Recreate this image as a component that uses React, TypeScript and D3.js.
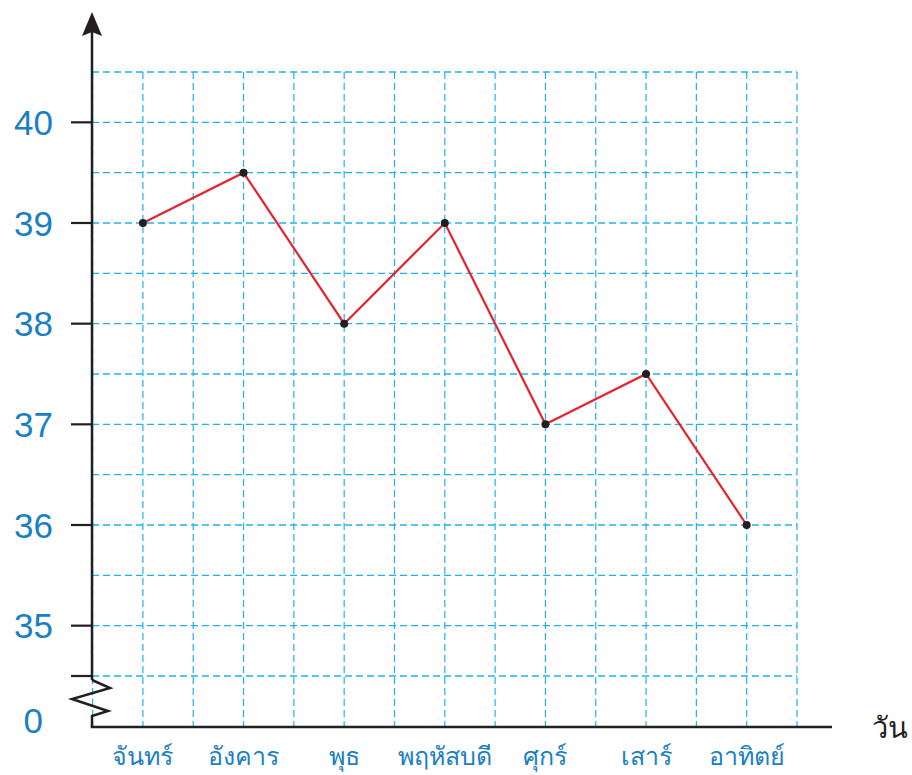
import React from "react";
import * as d3 from "d3";

const days = ["จันทร์", "อังคาร", "พุธ", "พฤหัสบดี", "ศุกร์", "เสาร์", "อาทิตย์"];
const temps = [39, 39.5, 38, 39, 37, 37.5, 36];
const yTickValues = [35, 36, 37, 38, 39, 40];
const xAxisTitle = "วัน";
const zeroLabel = "0";

const W = 912;
const H = 775;
const axisX = 92;
const axisY = 727;
const gridRight = 797;

const x = d3.scaleLinear().domain([-0.5, 6.5]).range([axisX + 0.6, gridRight]);
const y = d3.scaleLinear().domain([34.5, 40.5]).range([676, 72]);

const gridBlue = "#1fb2ea";
const labelBlue = "#1a80c4";
const axisColor = "#231f20";

export default function App() {
  const hVals = d3.range(34.5, 40.51, 0.5);
  const vVals = d3.range(-0.5, 6.51, 0.5);
  const line = d3
    .line<number>()
    .x((_, i) => x(i))
    .y((d) => y(d));

  const zig = [
    [axisX, y(34.5) + 4],
    [axisX + 18, 688],
    [axisX - 20, 699],
    [axisX + 16, 711],
    [axisX, 716],
    [axisX, axisY],
  ];

  return (
    <svg width={W} height={H} style={{ position: "absolute", left: 0, top: 0 }}>
      <rect width={W} height={H} fill="#fff" />
      {/* horizontal grid */}
      {hVals.map((v) => (
        <line
          key={"h" + v}
          x1={axisX}
          x2={gridRight}
          y1={y(v)}
          y2={y(v)}
          stroke={gridBlue}
          strokeWidth={1.3}
          strokeDasharray="7 4"
        />
      ))}
      {/* vertical grid */}
      {vVals.map((v) => (
        <line
          key={"v" + v}
          x1={x(v)}
          x2={x(v)}
          y1={y(40.5)}
          y2={axisY}
          stroke={gridBlue}
          strokeWidth={1.2}
          strokeDasharray="7 4"
        />
      ))}
      {/* y axis */}
      <line x1={axisX} x2={axisX} y1={30} y2={y(34.5) + 4} stroke={axisColor} strokeWidth={2.5} />
      <path d={`M${axisX},12 L${axisX + 10},36 L${axisX},32 L${axisX - 10},36 Z`} fill={axisColor} />
      <polyline
        points={zig.map((p) => p.join(",")).join(" ")}
        fill="none"
        stroke={axisColor}
        strokeWidth={2.5}
        strokeLinejoin="miter"
      />
      {/* x axis */}
      <line x1={axisX - 1.25} x2={832} y1={axisY} y2={axisY} stroke={axisColor} strokeWidth={2.5} />
      {/* ticks */}
      {[...yTickValues, 34.5].map((v) => (
        <line key={"t" + v} x1={71} x2={axisX} y1={y(v)} y2={y(v)} stroke={axisColor} strokeWidth={2.2} />
      ))}
      {/* y labels */}
      {yTickValues.map((v) => (
        <text
          key={"yl" + v}
          x={53}
          y={y(v)}
          dy="0.36em"
          textAnchor="end"
          fontFamily="Liberation Sans, Arial, sans-serif"
          fontSize={35}
          fill={labelBlue}
        >
          {v}
        </text>
      ))}
      <text
        x={43}
        y={720}
        dy="0.36em"
        textAnchor="end"
        fontFamily="Liberation Sans, Arial, sans-serif"
        fontSize={35}
        fill={labelBlue}
      >
        {zeroLabel}
      </text>
      {/* x labels */}
      {days.map((d, i) => (
        <text
          key={d}
          x={x(i)}
          y={765}
          textAnchor="middle"
          fontFamily="Noto Sans, sans-serif"
          fontSize={25}
          fill={labelBlue}
        >
          {d}
        </text>
      ))}
      <text x={872} y={738} fontFamily="Noto Sans, sans-serif" fontSize={29} fill={axisColor}>
        {xAxisTitle}
      </text>
      {/* data line */}
      <path d={line(temps) || ""} fill="none" stroke="#e8222b" strokeWidth={2.2} />
      {temps.map((t, i) => (
        <circle key={"p" + i} cx={x(i)} cy={y(t)} r={4} fill="#231f20" />
      ))}
    </svg>
  );
}
